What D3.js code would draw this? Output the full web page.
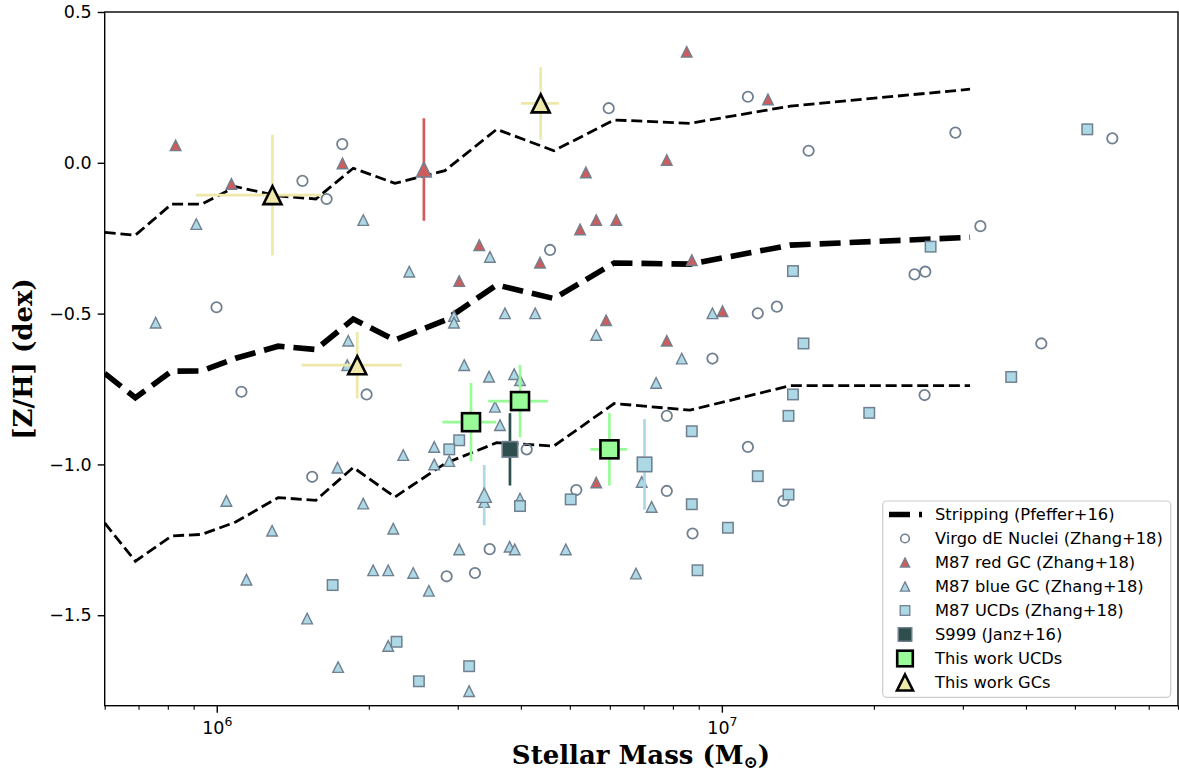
<!DOCTYPE html>
<html>
<head>
<meta charset="utf-8">
<script src="https://cdn.jsdelivr.net/npm/d3@7"></script>
<style>
  html, body { margin: 0; padding: 0; background: #fff; }
  svg { display: block; }
  .tick text { font-family: "DejaVu Sans", sans-serif; }
</style>
</head>
<body>
<svg id="chart" width="1179" height="773"></svg>
<script>
// ---- Pfeffer+16 stripping tracks (median and envelope) ----
const stripMass   = [6.0e5, 6.9e5, 8.14e5, 9.34e5, 1.09e6, 1.323e6, 1.571e6, 1.863e6, 2.253e6, 2.83e6, 3.583e6, 4.65e6, 6.12e6, 8.65e6, 1.366e7, 3.10e7];
const stripMedian = [-0.698, -0.779, -0.691, -0.690, -0.648, -0.608, -0.619, -0.518, -0.588, -0.522, -0.405, -0.450, -0.332, -0.336, -0.273, -0.247];
const stripUpper  = [-0.231, -0.240, -0.137, -0.137, -0.079, -0.110, -0.120, -0.018, -0.068, -0.026, 0.111, 0.040, 0.142, 0.131, 0.188, 0.244];
const stripLower  = [-1.194, -1.321, -1.237, -1.232, -1.191, -1.110, -1.119, -1.010, -1.108, -0.997, -0.928, -0.939, -0.798, -0.820, -0.739, -0.739];

// ---- Virgo dE nuclei (Zhang+18) ----
const nucMass = [1.478e6, 1.772e6, 1.650e6, 5.97e6, 1.126e7, 4.57e6, 1.485e7, 2.90e7, 5.93e7, 3.25e7, 9.99e5, 1.119e6, 1.980e6, 1.545e6, 3.47e6, 2.852e6, 3.245e6, 8.75e6, 1.178e7, 1.285e7, 9.58e6, 4.108e6, 5.15e6, 7.78e6, 7.78e6, 1.126e7, 2.407e7, 2.528e7, 4.29e7, 2.52e7, 1.324e7];
const nucZH   = [-0.060, 0.062, -0.120, 0.181, 0.219, -0.289, 0.040, 0.100, 0.081, -0.210, -0.479, -0.759, -0.768, -1.041, -1.281, -1.371, -1.360, -1.229, -0.499, -0.477, -0.649, -0.950, -1.085, -1.088, -0.839, -0.942, -0.370, -0.361, -0.599, -0.770, -1.121];

// ---- M87 red GCs (Zhang+18) ----
const redMass = [8.29e5, 1.069e6, 1.774e6, 8.52e6, 1.234e7, 5.38e6, 7.78e6, 5.24e6, 5.64e6, 6.18e6, 3.31e6, 4.365e6, 3.02e6, 8.72e6, 5.90e6, 7.78e6, 1.003e7, 5.64e6];
const redZH   = [0.058, -0.070, -0.002, 0.368, 0.210, -0.032, 0.009, -0.221, -0.190, -0.190, -0.273, -0.331, -0.392, -0.323, -0.522, -0.590, -0.492, -1.060];

// ---- M87 blue GCs (Zhang+18) ----
const blueMass = [9.11e5, 1.950e6, 7.57e5, 1.821e6, 1.813e6, 1.734e6, 1.045e6, 1.950e6, 1.287e6, 2.236e6, 1.145e6, 2.040e6, 2.185e6, 1.510e6, 1.739e6, 2.185e6, 3.02e6, 3.80e6, 3.89e6, 4.91e6, 2.449e6, 2.63e6, 6.76e6, 7.26e6, 3.16e6, 2.405e6, 3.474e6, 2.949e6, 2.949e6, 3.72e6, 4.27e6, 5.64e6, 9.58e6, 8.33e6, 7.41e6, 3.09e6, 3.46e6, 3.88e6, 3.985e6, 3.555e6, 3.637e6, 2.695e6, 2.34e6, 2.695e6, 2.886e6, 6.94e6, 3.985e6, 3.385e6];
const blueZH   = [-0.203, -0.190, -0.530, -0.590, -0.671, -1.011, -1.121, -1.130, -1.220, -1.213, -1.382, -1.351, -1.351, -1.511, -1.672, -1.602, -1.282, -1.273, -1.282, -1.282, -1.360, -1.419, -1.362, -1.141, -1.752, -0.361, -0.312, -0.508, -0.530, -0.499, -0.499, -0.571, -0.499, -0.649, -0.730, -0.671, -0.709, -0.701, -0.721, -0.809, -0.870, -0.942, -0.969, -1.000, -0.989, -1.058, -1.113, -1.125];

// ---- M87 UCDs (Zhang+18) ----
const ucdMass = [5.29e7, 2.59e7, 1.696e6, 2.27e6, 3.985e6, 5.02e6, 8.72e6, 1.028e7, 8.95e6, 3.16e6, 2.513e6, 3.02e6, 2.886e6, 8.72e6, 1.178e7, 1.383e7, 1.451e7, 3.74e7, 1.383e7, 1.355e7, 1.958e7, 1.355e7];
const ucdZH   = [0.111, -0.278, -1.400, -1.588, -1.138, -1.116, -1.132, -1.210, -1.351, -1.669, -1.719, -0.920, -0.950, -0.890, -1.039, -0.359, -0.599, -0.710, -0.768, -0.839, -0.829, -1.100];

// ---- Zhang+18 objects in common with our sample (with [Z/H] errors) ----
const redErrMass = [2.571e6],  redErrZH = [-0.022],  redErrDZ = [0.17];
const blueErrMass = [3.385e6], blueErrZH = [-1.102], blueErrDZ = [0.10];
const ucdErrMass = [7.03e6],   ucdErrZH = [-1.000],  ucdErrDZ = [0.15];

// ---- S999 (Janz+16) ----
const s999Mass = [3.806e6], s999ZH = [-0.950], s999DZ = [0.12];

// ---- This work: UCDs ----
const twUcdMass = [3.187e6, 3.985e6, 5.99e6];
const twUcdZH   = [-0.860, -0.790, -0.950];
const twUcdDM   = [3.9e5, 5.4e5, 5.0e5];
const twUcdDZ   = [0.13, 0.12, 0.12];

// ---- This work: GCs ----
const twGcMass  = [1.289e6, 4.379e6, 1.897e6];
const twGcZH    = [-0.107, 0.197, -0.671];
const twGcDMlo  = [3.8e5, 3.8e5, 4.25e5];
const twGcDMhi  = [3.2e5, 3.8e5, 4.3e5];
const twGcDZ    = [0.20, 0.12, 0.11];

// ---- axis ticks ----
const yTicks = [0.5, 0.0, -0.5, -1.0, -1.5];
const xMajor = [1e6, 1e7];
const xMinor = [6e5, 7e5, 8e5, 9e5, 2e6, 3e6, 4e6, 5e6, 6e6, 7e6, 8e6, 9e6, 2e7, 3e7, 4e7, 5e7, 6e7, 7e7, 8e7];

const legendLabels = ["Stripping (Pfeffer+16)", "Virgo dE Nuclei (Zhang+18)", "M87 red GC (Zhang+18)",
  "M87 blue GC (Zhang+18)", "M87 UCDs (Zhang+18)", "S999 (Janz+16)", "This work UCDs", "This work GCs"];

// ---- colours ----
const C = {
  edge: "#708090", red: "#cd5c5c", blue: "#add8e6", s999: "#2f4f4f",
  green: "#98fb98", gold: "#eee8aa"
};

const svg = d3.select("#chart");
const L = 104.7, R = 1178, T = 12, B = 705.7;
const x = d3.scaleLog().domain([6e5, 8e7]).range([L, R]);
const y = d3.scaleLinear().domain([-1.8, 0.5]).range([B, T]);

const zip = (a, b) => a.map((v, i) => [v, b[i]]);
const tri = s => `M0,${-s}L${s},${s}L${-s},${s}Z`;

const plot = svg.append("g");
plot.append("defs").append("clipPath").attr("id", "clip")
  .append("rect").attr("x", L).attr("y", T).attr("width", R - L).attr("height", B - T);
const g = plot.append("g").attr("clip-path", "url(#clip)");

// stripping tracks
const line = d3.line().x(d => x(d[0])).y(d => y(d[1]));
[[stripUpper, 2.8, "11,4.8"], [stripLower, 2.8, "11,4.8"], [stripMedian, 5.6, "21,9"]].forEach(([vals, w, dash]) => {
  g.append("path").datum(zip(stripMass, vals)).attr("d", line)
    .attr("fill", "none").attr("stroke", "#000").attr("stroke-width", w)
    .attr("stroke-dasharray", dash);
});

// Virgo nuclei: open circles
g.selectAll(".nuc").data(zip(nucMass, nucZH)).join("circle")
  .attr("cx", d => x(d[0])).attr("cy", d => y(d[1])).attr("r", 5.2)
  .attr("fill", "none").attr("stroke", C.edge).attr("stroke-width", 1.8);

// marker helpers
function triangles(data, fill, s) {
  g.append("g").selectAll("path").data(data).join("path")
    .attr("transform", d => `translate(${x(d[0])},${y(d[1])})`)
    .attr("d", tri(s)).attr("fill", fill).attr("stroke", C.edge).attr("stroke-width", 1.4);
}
function squares(data, fill, side, stroke, sw) {
  g.append("g").selectAll("rect").data(data).join("rect")
    .attr("x", d => x(d[0]) - side / 2).attr("y", d => y(d[1]) - side / 2)
    .attr("width", side).attr("height", side)
    .attr("fill", fill).attr("stroke", stroke).attr("stroke-width", sw);
}
function vErr(mass, zh, dz, color, w) {
  g.append("g").selectAll("line").data(mass.map((m, i) => [m, zh[i], dz[i]])).join("line")
    .attr("x1", d => x(d[0])).attr("x2", d => x(d[0]))
    .attr("y1", d => y(d[1] + d[2])).attr("y2", d => y(d[1] - d[2]))
    .attr("stroke", color).attr("stroke-width", w);
}
function hErr(mass, zh, lo, hi, color, w) {
  g.append("g").selectAll("line").data(mass.map((m, i) => [m, zh[i], lo[i], hi[i]])).join("line")
    .attr("x1", d => x(d[0] - d[2])).attr("x2", d => x(d[0] + d[3]))
    .attr("y1", d => y(d[1])).attr("y2", d => y(d[1]))
    .attr("stroke", color).attr("stroke-width", w);
}

triangles(zip(redMass, redZH), C.red, 5.3);
triangles(zip(blueMass, blueZH), C.blue, 5.3);
squares(zip(ucdMass, ucdZH), C.blue, 10.5, C.edge, 1.5);

// Zhang+18 objects with errors
vErr(redErrMass, redErrZH, redErrDZ, C.red, 2.7);
triangles(zip(redErrMass, redErrZH), C.red, 7.5);
vErr(blueErrMass, blueErrZH, blueErrDZ, C.blue, 2.7);
triangles(zip(blueErrMass, blueErrZH), C.blue, 7.2);
vErr(ucdErrMass, ucdErrZH, ucdErrDZ, C.blue, 2.7);
squares(zip(ucdErrMass, ucdErrZH), C.blue, 14.5, C.edge, 1.6);

// S999
vErr(s999Mass, s999ZH, s999DZ, C.s999, 2.7);
squares(zip(s999Mass, s999ZH), C.s999, 15.5, C.edge, 1.6);

// This work: UCDs
vErr(twUcdMass, twUcdZH, twUcdDZ, C.green, 2.7);
hErr(twUcdMass, twUcdZH, twUcdDM, twUcdDM, C.green, 2.7);
squares(zip(twUcdMass, twUcdZH), C.green, 18, "#000", 2.6);

// This work: GCs
vErr(twGcMass, twGcZH, twGcDZ, C.gold, 2.7);
hErr(twGcMass, twGcZH, twGcDMlo, twGcDMhi, C.gold, 2.7);
g.append("g").selectAll("path").data(zip(twGcMass, twGcZH)).join("path")
  .attr("transform", d => `translate(${x(d[0])},${y(d[1])})`)
  .attr("d", tri(9)).attr("fill", C.gold).attr("stroke", "#000").attr("stroke-width", 2.6)
  .attr("stroke-linejoin", "miter");

// frame
plot.append("rect").attr("x", L).attr("y", T).attr("width", R - L).attr("height", B - T)
  .attr("fill", "none").attr("stroke", "#000").attr("stroke-width", 1.4);

// y axis
const yAxis = svg.append("g").attr("transform", `translate(${L},0)`)
  .call(d3.axisLeft(y).tickValues(yTicks).tickSize(7).tickPadding(6)
    .tickFormat(d => d3.format(".1f")(d).replace("-", "\u2212")));
yAxis.select(".domain").remove();
yAxis.selectAll(".tick line").attr("stroke", "#000").attr("stroke-width", 1.4);
yAxis.selectAll(".tick text").attr("font-size", 17.5).attr("fill", "#000");

// x axis: minor ticks
const xMin = svg.append("g").attr("transform", `translate(0,${B})`)
  .call(d3.axisBottom(x).tickValues(xMinor).tickSize(4).tickFormat(""));
xMin.select(".domain").remove();
xMin.selectAll(".tick line").attr("stroke", "#000").attr("stroke-width", 1.1);

// x axis: decades with superscript labels
const xMaj = svg.append("g").attr("transform", `translate(0,${B})`)
  .call(d3.axisBottom(x).tickValues(xMajor).tickSize(7).tickFormat(""));
xMaj.select(".domain").remove();
xMaj.selectAll(".tick line").attr("stroke", "#000").attr("stroke-width", 1.4);
xMaj.selectAll(".tick").each(function (d) {
  const t = d3.select(this).append("text").attr("y", 28.5).attr("text-anchor", "middle")
    .attr("fill", "#000").attr("font-size", 17.5).attr("font-family", "DejaVu Sans, sans-serif");
  t.append("tspan").text("10");
  t.append("tspan").attr("dy", -8).attr("font-size", 12.5).text(Math.round(Math.log10(d)));
});

// axis titles
svg.append("text").attr("x", 641).attr("y", 764).attr("text-anchor", "middle")
  .attr("font-family", "DejaVu Serif, serif").attr("font-weight", "bold").attr("font-size", 26)
  .call(t => {
    t.append("tspan").text("Stellar Mass (M");
    t.append("tspan").attr("dy", 3.5).attr("font-size", 17).text("\u2299");
    t.append("tspan").attr("dy", -3.5).text(")");
  });
svg.append("text").attr("transform", `translate(32,359) rotate(-90)`).attr("text-anchor", "middle")
  .attr("font-family", "DejaVu Serif, serif").attr("font-weight", "bold").attr("font-size", 26)
  .text("[Z/H] (dex)");

// legend
const lg = svg.append("g");
lg.append("rect").attr("x", 882.7).attr("y", 501).attr("width", 288).attr("height", 196.3).attr("rx", 4)
  .attr("fill", "#fff").attr("fill-opacity", 0.8).attr("stroke", "#cccccc").attr("stroke-width", 1.2);
const rowY = i => 514.5 + i * 24;
const hx = 905;
legendLabels.forEach((lab, i) => {
  lg.append("text").attr("x", 935).attr("y", rowY(i)).attr("dy", "0.36em")
    .attr("font-family", "DejaVu Sans, sans-serif").attr("font-size", 16.3).attr("fill", "#000").text(lab);
});
lg.append("line").attr("x1", 889).attr("x2", 922).attr("y1", rowY(0)).attr("y2", rowY(0))
  .attr("stroke", "#000").attr("stroke-width", 5.5).attr("stroke-dasharray", "21,9");
lg.append("circle").attr("cx", hx).attr("cy", rowY(1)).attr("r", 4.3)
  .attr("fill", "none").attr("stroke", C.edge).attr("stroke-width", 1.6);
lg.append("path").attr("transform", `translate(${hx},${rowY(2)})`).attr("d", tri(4.6))
  .attr("fill", C.red).attr("stroke", C.edge).attr("stroke-width", 1.3);
lg.append("path").attr("transform", `translate(${hx},${rowY(3)})`).attr("d", tri(4.6))
  .attr("fill", C.blue).attr("stroke", C.edge).attr("stroke-width", 1.3);
lg.append("rect").attr("x", hx - 4.8).attr("y", rowY(4) - 4.8).attr("width", 9.6).attr("height", 9.6)
  .attr("fill", C.blue).attr("stroke", C.edge).attr("stroke-width", 1.3);
lg.append("rect").attr("x", hx - 6.8).attr("y", rowY(5) - 6.8).attr("width", 13.6).attr("height", 13.6)
  .attr("fill", C.s999).attr("stroke", C.edge).attr("stroke-width", 1.4);
lg.append("rect").attr("x", hx - 7.8).attr("y", rowY(6) - 7.8).attr("width", 15.6).attr("height", 15.6)
  .attr("fill", C.green).attr("stroke", "#000").attr("stroke-width", 2.6);
lg.append("path").attr("transform", `translate(${hx},${rowY(7)})`).attr("d", tri(8))
  .attr("fill", C.gold).attr("stroke", "#000").attr("stroke-width", 2.6);
</script>
</body>
</html>
